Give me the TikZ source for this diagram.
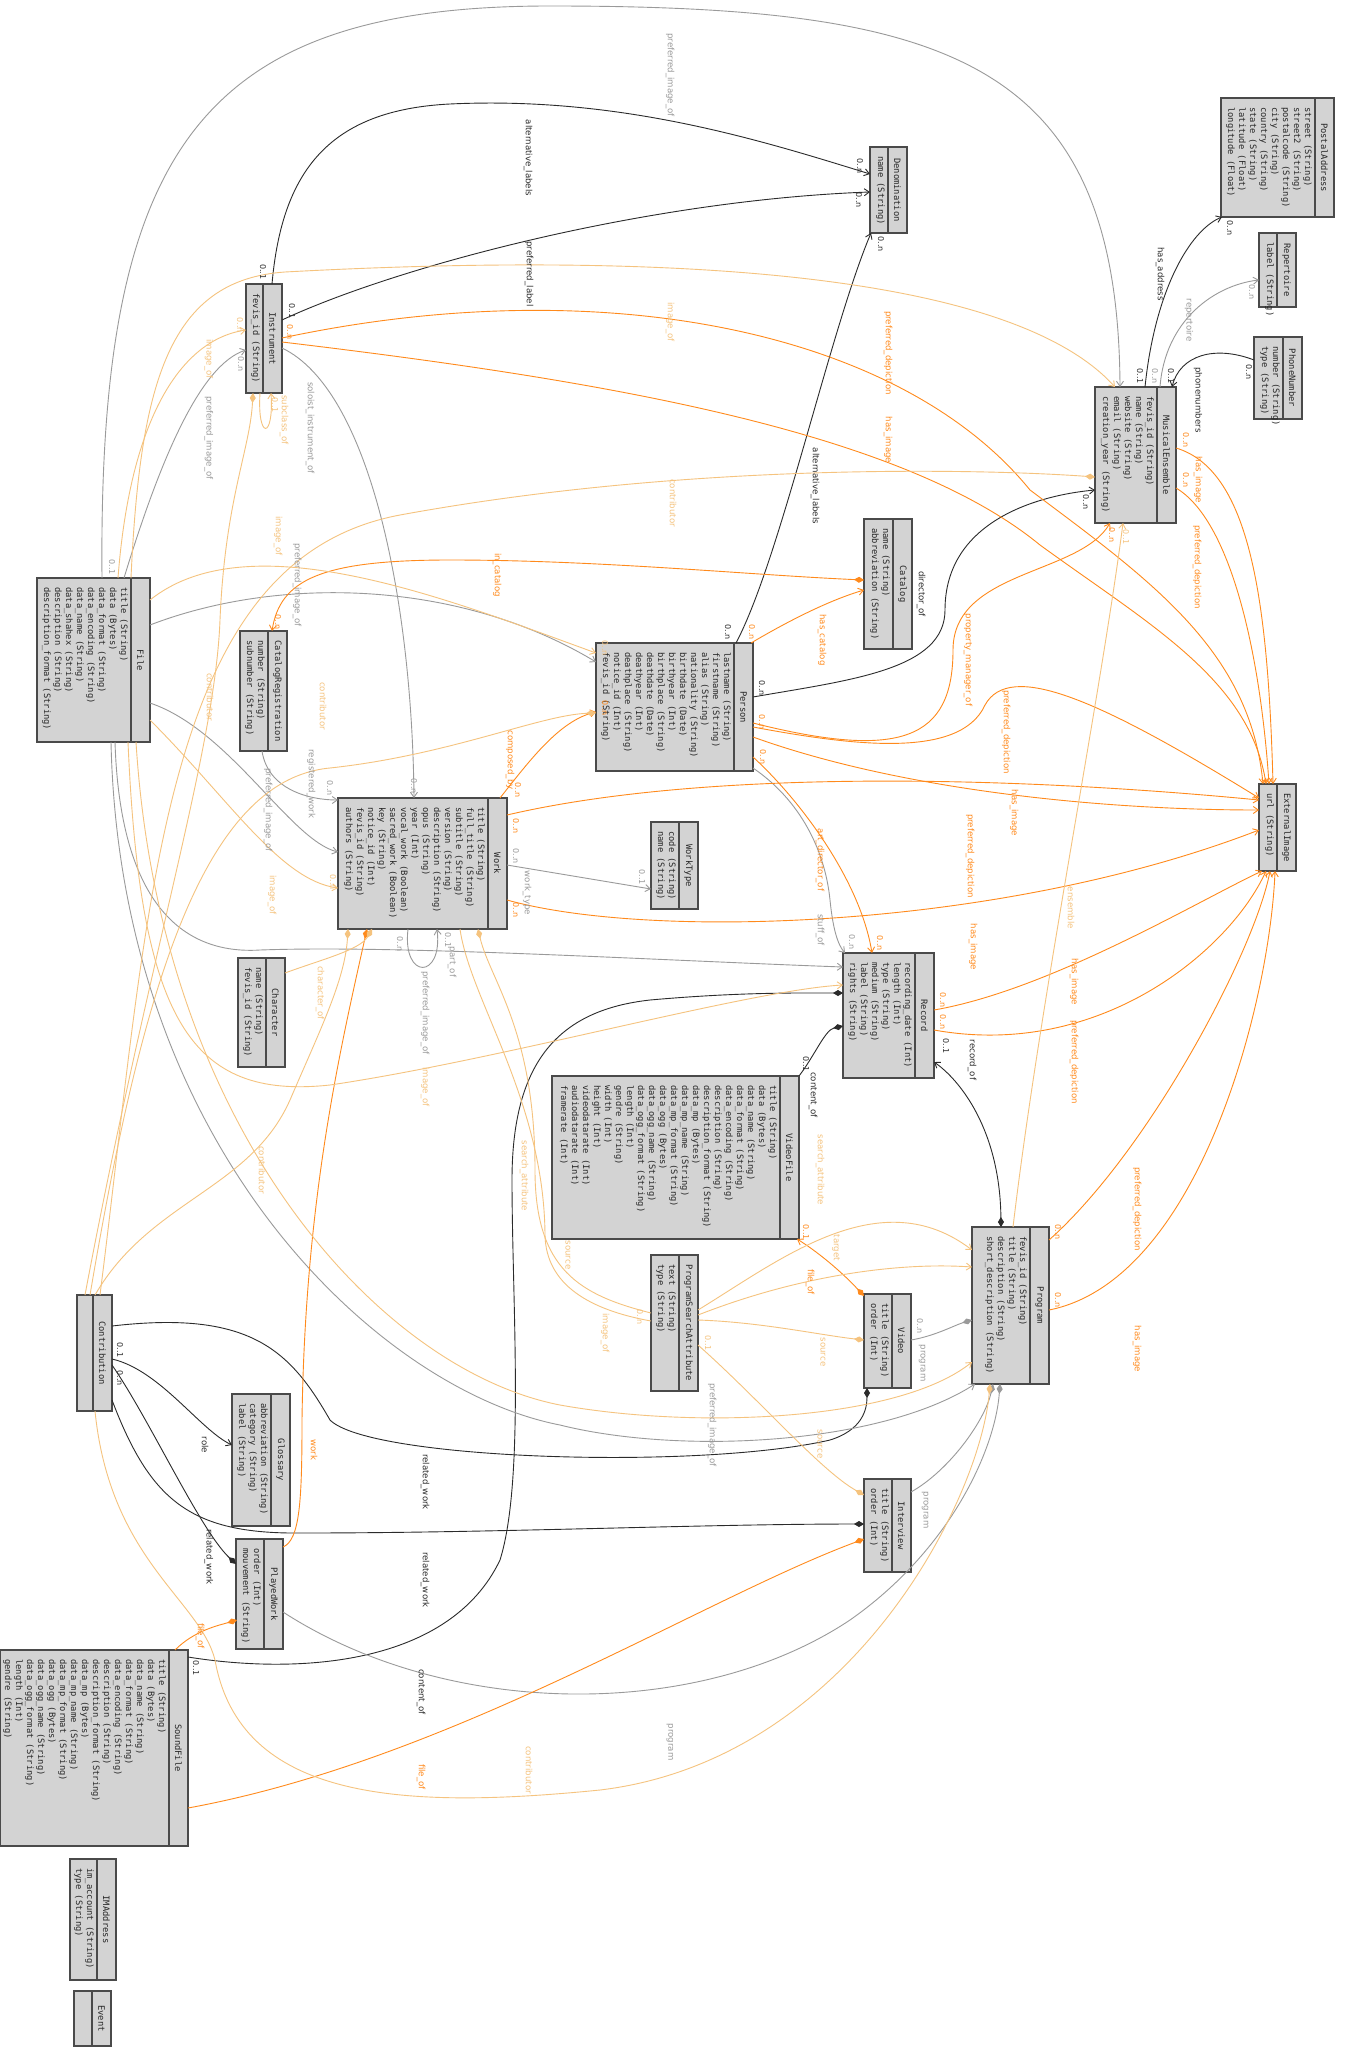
\documentclass[tikz,border=0pt]{standalone}
\usepackage{fontspec}
\newfontfamily\monof{DejaVu Sans Mono}
\newfontfamily\labf{DejaVu Sans}
\usetikzlibrary{arrows.meta,calc}
\definecolor{blk}{HTML}{2B2B2B}
\definecolor{gry}{HTML}{9A9A9A}
\definecolor{org}{HTML}{FF8A1C}
\definecolor{lor}{HTML}{F5C37E}
\definecolor{boxfill}{HTML}{D3D3D3}
\definecolor{boxline}{HTML}{4A4A4A}
\newcounter{lblc}
\tikzset{
  clsbox/.style={draw=boxline, fill=boxfill, line width=1.1pt, inner sep=0pt, outer sep=0pt},
  clshead/.style={rotate=-90, font={\monof\fontsize{8.8}{11}\selectfont}, inner sep=0pt, text=black!85},
  clsattr/.style={rotate=-90, anchor=north west, align=left, font={\monof\fontsize{8.8}{11}\selectfont}, inner sep=0pt, text=black!85},
  elabel/.style={rotate=-90, font={\labf\fontsize{8.6}{10}\selectfont}, inner sep=0pt},
  mlabel/.style={rotate=-90, font={\labf\fontsize{8}{9}\selectfont}, inner sep=0pt},
  conn/.style={line width=0.9pt},
  toarr/.style={-{Straight Barb[length=5pt,width=7pt]}},
  todia/.style={-{Diamond[length=10pt,width=6pt]}},
  diaarr/.style={{Diamond[length=10pt,width=6pt]}-{Straight Barb[length=5pt,width=7pt]}}
}
\newcommand\umlcls[7]{%
  \node[clsbox, minimum width=#4, minimum height=#5, anchor=north west] (#1) at (#2,#3) {};
  \draw[boxline, line width=1.3pt] ($(#1.north east)+(-19,0)$) -- ($(#1.south east)+(-19,0)$);
  \node[clshead] (#1-h) at ($(#1.east)+(-9.5,0)$) {#6};
  \node[clsattr] (#1-a) at ($(#1.north east)+(-22,9)$) {#7};
}
\newcommand\elab[4]{\stepcounter{lblc}\node[elabel,text=#3] (lb\arabic{lblc}) at (#1,#2) {#4};}
\newcommand\mlab[4]{\stepcounter{lblc}\node[mlabel,text=#3] (lb\arabic{lblc}) at (#1,#2) {#4};}
\begin{document}
\begin{tikzpicture}[x=1pt,y=-1pt]
\fill[white] (0,0) rectangle (1351,2049);
\useasboundingbox (0,0) rectangle (1351,2049);

% ---------------- classes ----------------
\umlcls{postal}{1221}{98}{113}{119}{PostalAddress}{street (String)\\street2 (String)\\postalcode (String)\\city (String)\\country (String)\\state (String)\\latitude (Float)\\longitude (Float)}
\umlcls{repertoire}{1259}{233}{37}{74}{Repertoire}{label (String)}
\umlcls{phone}{1254}{337}{48}{82}{PhoneNumber}{number (String)\\type (String)}
\umlcls{ensemble}{1095}{387}{81}{136}{MusicalEnsemble}{fevis\_id (String)\\name (String)\\website (String)\\email (String)\\creation\_year (String)}
\umlcls{extimg}{1259}{784}{37}{87}{ExternalImage}{url (String)}
\umlcls{person}{596}{643}{157}{128}{Person}{lastname (String)\\firstname (String)\\alias (String)\\nationality (String)\\birthdate (Date)\\birthyear (Int)\\birthplace (String)\\deathdate (Date)\\deathyear (Int)\\deathplace (String)\\notice\_id (Int)\\fevis\_id (String)}
\umlcls{worktype}{651}{822}{47}{87}{WorkType}{code (String)\\name (String)}
\umlcls{catalog}{864}{519}{48}{130}{Catalog}{name (String)\\abbreviation (String)}
\umlcls{record}{843}{953}{91}{125}{Record}{recording\_date (Int)\\length (Int)\\type (String)\\medium (String)\\label (String)\\rights (String)}
\umlcls{work}{338}{798}{169}{131}{Work}{title (String)\\full\_title (String)\\subtitle (String)\\version (String)\\description (String)\\opus (String)\\year (Int)\\vocal\_work (Boolean)\\sacred\_work (Boolean)\\key (String)\\notice\_id (Int)\\fevis\_id (String)\\authors (String)}
\umlcls{file}{37}{578}{113}{164}{File}{title (String)\\data (Bytes)\\data\_format (String)\\data\_encoding (String)\\data\_name (String)\\data\_shahex (String)\\description (String)\\description\_format (String)}
\umlcls{catreg}{240}{631}{47}{120}{CatalogRegistration}{number (String)\\subnumber (String)}
\umlcls{instrument}{246}{284}{36}{109}{Instrument}{fevis\_id (String)}
\umlcls{denom}{870}{147}{37}{86}{Denomination}{name (String)}
\umlcls{videofile}{552}{1076}{247}{163}{VideoFile}{title (String)\\data (Bytes)\\data\_name (String)\\data\_format (String)\\data\_encoding (String)\\description (String)\\description\_format (String)\\data\_mp (Bytes)\\data\_mp\_name (String)\\data\_mp\_format (String)\\data\_ogg (Bytes)\\data\_ogg\_name (String)\\data\_ogg\_format (String)\\length (Int)\\gendre (String)\\width (Int)\\height (Int)\\videodatarate (Int)\\audiodatarate (Int)\\framerate (Int)}
\umlcls{psa}{651}{1255}{47}{136}{ProgramSearchAttribute}{text (String)\\type (String)}
\umlcls{character}{238}{958}{47}{109}{Character}{name (String)\\fevis\_id (String)}
\umlcls{program}{972}{1227}{77}{157}{Program}{fevis\_id (String)\\title (String)\\description (String)\\short\_description (String)}
\umlcls{video}{864}{1294}{47}{94}{Video}{title (String)\\order (Int)}
\umlcls{interview}{864}{1479}{47}{93}{Interview}{title (String)\\order (Int)}
\umlcls{glossary}{232}{1394}{58}{132}{Glossary}{abbreviation (String)\\category (String)\\label (String)}
\umlcls{playedwork}{236}{1539}{47}{110}{PlayedWork}{order (Int)\\mouvement (String)}
\umlcls{contribution}{77}{1295}{35}{116}{Contribution}{}
\umlcls{soundfile}{0}{1650}{188}{196}{SoundFile}{title (String)\\data (Bytes)\\data\_name (String)\\data\_format (String)\\data\_encoding (String)\\description (String)\\description\_format (String)\\data\_mp (Bytes)\\data\_mp\_name (String)\\data\_mp\_format (String)\\data\_ogg (Bytes)\\data\_ogg\_name (String)\\data\_ogg\_format (String)\\length (Int)\\gendre (String)}
\umlcls{imaddress}{70}{1859}{46}{121}{IMAddress}{im\_account (String)\\type (String)}
\umlcls{event}{74}{1991}{37}{55}{Event}{}

% ---------------- black connectors ----------------
\draw[conn,blk,toarr] ($(instrument.north west)+(26,0)$) .. controls (282,170) and (330,110) .. (450,104) .. controls (620,96) and (760,140) .. ($(denom.north west)+(0,27)$);
\draw[conn,blk,toarr] ($(instrument.north west)+(36,36)$) .. controls (400,265) and (650,200) .. ($(denom.north west)+(0,45)$);
\draw[conn,blk,toarr] ($(person.north west)+(140,0)$) .. controls (780,560) and (830,330) .. ($(denom.north west)+(1,86)$);
\draw[conn,blk,toarr] ($(person.north west)+(157,54)$) .. controls (850,680) and (945,670) .. (945,610) .. controls (945,520) and (1040,495) .. ($(ensemble.north west)+(0,103)$);
\draw[conn,blk,toarr] ($(ensemble.north west)+(50,0)$) .. controls (1155,290) and (1190,230) .. ($(postal.north west)+(1,119)$);
\draw[conn,blk,toarr] ($(phone.north west)+(0,23)$) .. controls (1215,345) and (1180,355) .. ($(ensemble.north west)+(77,0)$);
\draw[conn,blk,diaarr] ($(program.north west)+(29,0)$) .. controls (1000,1130) and (960,1080) .. ($(record.north west)+(91,109)$);
\draw[conn,blk,todia] ($(videofile.north west)+(247,0)$) .. controls (815,1055) and (825,1030) .. ($(record.north west)+(0,73)$);
\draw[conn,blk,todia] ($(soundfile.north west)+(188,7)$) .. controls (300,1675) and (450,1665) .. (500,1560) .. controls (525,1480) and (512,1300) .. (512,1180) .. controls (512,1060) and (560,1010) .. (650,1000) .. controls (740,992) and (800,993) .. ($(record.north west)+(0,40)$);
\draw[conn,blk,toarr] ($(contribution.north west)+(35,64)$) .. controls (160,1370) and (200,1430) .. ($(glossary.north west)+(0,51)$);
\draw[conn,blk,todia] ($(contribution.north west)+(35,70)$) .. controls (150,1420) and (200,1530) .. ($(playedwork.north west)+(0,25)$);
\draw[conn,blk,todia] ($(contribution.north west)+(35,31)$) .. controls (250,1310) and (290,1350) .. (330,1420) .. controls (370,1460) and (700,1470) .. (830,1440) .. controls (862,1430) and (867,1410) .. ($(video.north west)+(3,94)$);
\draw[conn,blk,todia] ($(contribution.north west)+(35,105)$) .. controls (150,1500) and (190,1534) .. (300,1533) .. controls (500,1533) and (700,1524) .. ($(interview.north west)+(0,45)$);

% ---------------- gray connectors ----------------
\draw[conn,gry,toarr] ($(ensemble.north west)+(65,0)$) .. controls (1165,320) and (1215,285) .. ($(repertoire.north west)+(0,47)$);
\draw[conn,gry,toarr] ($(file.north west)+(65,0)$) .. controls (98,150) and (200,6) .. (550,6) .. controls (950,6) and (1118,60) .. ($(ensemble.north west)+(25,0)$);
\draw[conn,gry,toarr] ($(file.north west)+(87,0)$) .. controls (160,460) and (200,365) .. ($(instrument.north west)+(0,66)$);
\draw[conn,gry,toarr] ($(instrument.north west)+(36,64)$) .. controls (370,390) and (412,600) .. ($(work.north west)+(76,0)$);
\draw[conn,gry,toarr] ($(file.north west)+(113,47)$) .. controls (280,575) and (460,580) .. ($(person.north west)+(0,19)$);
\draw[conn,gry,toarr] ($(catreg.north west)+(22,120)$) .. controls (268,790) and (310,800) .. ($(work.north west)+(0,2)$);
\draw[conn,gry,toarr] ($(file.north west)+(113,125)$) .. controls (230,730) and (290,840) .. ($(work.north west)+(0,54)$);
\draw[conn,gry,toarr] ($(file.north west)+(78,164)$) .. controls (120,900) and (180,955) .. (260,950) .. controls (400,945) and (650,960) .. ($(record.north west)+(0,14)$);
\draw[conn,gry,toarr] ($(file.north west)+(74,164)$) .. controls (120,1150) and (380,1390) .. (560,1425) .. controls (680,1455) and (880,1445) .. ($(program.north west)+(3,157)$);
\draw[conn,gry,toarr] ($(work.north west)+(169,67)$) -- ($(worktype.north west)+(0,67)$);
\draw[conn,gry,toarr] ($(work.north west)+(70,131)$) .. controls (402,980) and (443,980) .. ($(work.north west)+(99,131)$);
\draw[conn,gry,toarr] ($(person.north west)+(157,125)$) .. controls (800,800) and (825,850) .. (830,900) .. controls (833,930) and (838,945) .. ($(record.north west)+(2,0)$);
\draw[conn,gry,todia] ($(video.north west)+(47,46)$) .. controls (935,1336) and (955,1325) .. ($(program.north west)+(0,93)$);
\draw[conn,gry,todia] ($(interview.north west)+(47,13)$) .. controls (950,1470) and (985,1420) .. ($(program.north west)+(21,157)$);
\draw[conn,gry,todia] ($(playedwork.north west)+(47,73)$) .. controls (450,1720) and (700,1720) .. (850,1620) .. controls (950,1550) and (995,1450) .. ($(program.north west)+(28,157)$);

% ---------------- orange connectors ----------------
\draw[conn,org,toarr] ($(instrument.north west)+(36,54)$) .. controls (600,270) and (900,330) .. (1030,490) .. controls (1150,580) and (1250,650) .. ($(extimg.north west)+(4,0)$);
\draw[conn,org,toarr] ($(instrument.north west)+(36,58)$) .. controls (600,380) and (900,430) .. (1040,545) .. controls (1150,625) and (1250,680) .. ($(extimg.north west)+(7,0)$);
\draw[conn,org,toarr] ($(ensemble.north west)+(81,61)$) .. controls (1250,470) and (1268,600) .. ($(extimg.north west)+(14,0)$);
\draw[conn,org,toarr] ($(ensemble.north west)+(81,101)$) .. controls (1230,520) and (1260,650) .. ($(extimg.north west)+(10,0)$);
\draw[conn,org,toarr] ($(person.north west)+(157,94)$) .. controls (900,790) and (1100,810) .. ($(extimg.north west)+(0,26)$);
\draw[conn,org,toarr] ($(person.north west)+(157,84)$) .. controls (850,745) and (960,760) .. (985,705) .. controls (1010,660) and (1100,700) .. ($(extimg.north west)+(0,14)$);
\draw[conn,org,toarr] ($(person.north west)+(157,80)$) .. controls (900,760) and (953,740) .. (953,650) .. controls (953,570) and (1080,575) .. ($(ensemble.north west)+(15,136)$);
\draw[conn,org,toarr] ($(person.north west)+(157,114)$) .. controls (800,800) and (860,880) .. ($(record.north west)+(29,0)$);
\draw[conn,org,toarr] ($(person.north west)+(155,0)$) .. controls (790,620) and (830,600) .. ($(catalog.north west)+(0,71)$);
\draw[conn,org,diaarr] ($(catalog.north west)+(0,61)$) .. controls (750,575) and (600,560) .. (450,560) .. controls (320,560) and (280,580) .. ($(catreg.north west)+(32,0)$);
\draw[conn,org,toarr] ($(work.north west)+(162,0)$) .. controls (530,760) and (560,720) .. ($(person.north west)+(0,69)$);
\draw[conn,org,toarr] ($(work.north west)+(169,17)$) .. controls (700,770) and (1000,775) .. ($(extimg.north west)+(0,16)$);
\draw[conn,org,toarr] ($(work.north west)+(169,102)$) .. controls (650,940) and (1000,930) .. ($(extimg.north west)+(0,46)$);
\draw[conn,org,toarr] ($(record.north west)+(91,57)$) .. controls (1050,990) and (1200,900) .. ($(extimg.north west)+(3,87)$);
\draw[conn,org,toarr] ($(record.north west)+(91,77)$) .. controls (1100,1060) and (1230,950) .. ($(extimg.north west)+(7,87)$);
\draw[conn,org,toarr] ($(program.north west)+(77,83)$) .. controls (1200,1280) and (1270,1000) .. ($(extimg.north west)+(16,87)$);
\draw[conn,org,toarr] ($(program.north west)+(77,13)$) .. controls (1150,1150) and (1255,950) .. ($(extimg.north west)+(11,87)$);
\draw[conn,org,diaarr] ($(video.north west)+(0,2)$) .. controls (840,1270) and (815,1250) .. ($(videofile.north west)+(245,163)$);
\draw[conn,org,todia] ($(playedwork.north west)+(47,8)$) .. controls (300,1540) and (302,1500) .. (302,1420) .. controls (305,1200) and (340,1050) .. ($(work.north west)+(29,131)$);
\draw[conn,org,todia] ($(soundfile.north west)+(175,0)$) .. controls (195,1630) and (220,1625) .. ($(playedwork.north west)+(1,81)$);
\draw[conn,org,todia] ($(soundfile.north west)+(188,158)$) .. controls (450,1760) and (700,1600) .. ($(interview.north west)+(0,60)$);

% ---------------- light orange connectors ----------------
\draw[conn,lor,toarr] ($(file.north west)+(81,0)$) .. controls (130,420) and (180,340) .. ($(instrument.north west)+(0,46)$);
\draw[conn,lor,toarr] ($(file.north west)+(94,0)$) .. controls (140,380) and (170,280) .. (285,272) .. controls (600,255) and (1000,260) .. ($(ensemble.north west)+(20,0)$);
\draw[conn,lor,toarr] ($(file.north west)+(113,22)$) .. controls (250,520) and (450,600) .. ($(person.north west)+(0,10)$);
\draw[conn,lor,toarr] ($(file.north west)+(113,142)$) .. controls (230,800) and (280,880) .. ($(work.north west)+(0,90)$);
\draw[conn,lor,toarr] ($(file.north west)+(91,164)$) .. controls (140,1020) and (190,1100) .. (330,1085) .. controls (500,1060) and (750,990) .. ($(record.north west)+(0,32)$);
\draw[conn,lor,toarr] ($(file.north west)+(99,164)$) .. controls (160,1130) and (380,1370) .. (560,1405) .. controls (700,1430) and (900,1420) .. ($(program.north west)+(0,135)$);
\draw[conn,lor,todia] ($(contribution.north west)+(8,0)$) .. controls (150,950) and (215,750) .. (220,620) .. controls (225,500) and (250,450) .. ($(instrument.north west)+(7,109)$);
\draw[conn,lor,toarr] ($(instrument.north west)+(14,109)$) .. controls (257,440) and (274,440) .. ($(instrument.north west)+(25,109)$);
\draw[conn,lor,todia] ($(contribution.north west)+(13,0)$) .. controls (140,1000) and (200,780) .. (330,768) .. controls (450,755) and (540,715) .. ($(person.north west)+(0,70)$);
\draw[conn,lor,todia] ($(contribution.north west)+(18,0)$) .. controls (150,1200) and (250,1190) .. (290,1100) .. controls (320,1030) and (345,980) .. ($(work.north west)+(10,131)$);
\draw[conn,lor,todia] ($(contribution.north west)+(23,0)$) .. controls (150,900) and (160,560) .. (400,515) .. controls (700,460) and (1000,470) .. ($(ensemble.north west)+(0,90)$);
\draw[conn,lor,todia] ($(contribution.north west)+(18,116)$) .. controls (110,1560) and (200,1600) .. (215,1660) .. controls (240,1800) and (400,1810) .. (600,1790) .. controls (850,1760) and (980,1500) .. ($(program.north west)+(18,157)$);
\draw[conn,lor,todia] ($(character.north west)+(47,15)$) .. controls (320,960) and (360,950) .. ($(work.north west)+(34,131)$);
\draw[conn,lor,toarr] ($(program.north west)+(41,0)$) .. controls (1040,1000) and (1100,700) .. ($(ensemble.north west)+(28,136)$);
\draw[conn,lor,todia] ($(psa.north west)+(0,58)$) .. controls (580,1295) and (535,1270) .. (535,1170) .. controls (535,1030) and (490,980) .. ($(work.north west)+(140,131)$);
\draw[conn,lor] ($(psa.north west)+(0,66)$) .. controls (590,1310) and (546,1285) .. (545,1235) .. controls (544,1100) and (470,1000) .. ($(work.north west)+(122,131)$);
\draw[conn,lor,toarr] ($(psa.north west)+(47,55)$) .. controls (780,1260) and (880,1180) .. ($(program.north west)+(0,23)$);
\draw[conn,lor,toarr] ($(psa.north west)+(47,60)$) .. controls (800,1275) and (900,1262) .. ($(program.north west)+(0,40)$);
\draw[conn,lor,todia] ($(psa.north west)+(47,65)$) .. controls (760,1322) and (820,1335) .. ($(video.north west)+(0,46)$);
\draw[conn,lor,todia] ($(psa.north west)+(47,90)$) .. controls (760,1400) and (820,1470) .. ($(interview.north west)+(0,16)$);

% ---------------- connector labels ----------------
\elab{528}{158}{blk}{alternative\_labels}
\elab{529}{274}{blk}{preferred\_label}
\elab{815}{486}{blk}{alternative\_labels}
\elab{921}{594}{blk}{director\_of}
\elab{1160}{274}{blk}{has\_address}
\elab{1198}{400}{blk}{phonenumbers}
\elab{972}{1060}{blk}{record\_of}
\elab{813}{1095}{blk}{content\_of}
\elab{205}{1445}{blk}{role}
\elab{209}{1557}{blk}{related\_work}
\elab{425}{1482}{blk}{related\_work}
\elab{425}{1580}{blk}{related\_work}
\elab{421}{1692}{blk}{content\_of}

\elab{1189}{320}{gry}{repertoire}
\elab{670}{75}{gry}{preferred\_image\_of}
\elab{209}{438}{gry}{preferred\_image\_of}
\elab{310}{428}{gry}{soloist\_instrument\_of}
\elab{297}{585}{gry}{preferred\_image\_of}
\elab{311}{784}{gry}{registered\_work}
\elab{268}{810}{gry}{preferred\_image\_of}
\elab{425}{1013}{gry}{preferred\_image\_of}
\elab{712}{1425}{gry}{preferred\_image\_of}
\elab{527}{893}{gry}{work\_type}
\elab{452}{962}{gry}{part\_of}
\elab{820}{930}{gry}{stuff\_of}
\elab{922}{1363}{gry}{program}
\elab{925}{1510}{gry}{program}
\elab{670}{1742}{gry}{program}

\elab{888}{353}{org}{preferred\_depiction}
\elab{888}{440}{org}{has\_image}
\elab{1198}{480}{org}{has\_image}
\elab{1197}{567}{org}{preferred\_depiction}
\elab{1014}{813}{org}{has\_image}
\elab{1006}{732}{org}{preferred\_depiction}
\elab{968}{660}{org}{property\_manager\_of}
\elab{820}{860}{org}{art\_director\_of}
\elab{822}{640}{org}{has\_catalog}
\elab{497}{575}{org}{in\_catalog}
\elab{510}{760}{org}{composed\_by}
\elab{970}{856}{org}{preferred\_depiction}
\elab{973}{947}{org}{has\_image}
\elab{1074}{982}{org}{has\_image}
\elab{1074}{1062}{org}{preferred\_depiction}
\elab{1137}{1349}{org}{has\_image}
\elab{1137}{1209}{org}{preferred\_depiction}
\elab{810}{1282}{org}{file\_of}
\elab{314}{1450}{org}{work}
\elab{200}{1636}{org}{file\_of}
\elab{421}{1777}{org}{file\_of}

\elab{209}{359}{lor}{image\_of}
\elab{670}{322}{lor}{image\_of}
\elab{278}{536}{lor}{image\_of}
\elab{272}{895}{lor}{image\_of}
\elab{425}{1087}{lor}{image\_of}
\elab{605}{1333}{lor}{image\_of}
\elab{210}{697}{lor}{contributor}
\elab{284}{420}{lor}{subclass\_of}
\elab{323}{706}{lor}{contributor}
\elab{262}{1170}{lor}{contributor}
\elab{673}{503}{lor}{contributor}
\elab{529}{1770}{lor}{contributor}
\elab{320}{993}{lor}{character\_of}
\elab{1071}{908}{lor}{ensemble}
\elab{524}{1176}{lor}{search\_attribute}
\elab{568}{1255}{lor}{source}
\elab{820}{1170}{lor}{search\_attribute}
\elab{836}{1248}{lor}{target}
\elab{823}{1352}{lor}{source}
\elab{820}{1444}{lor}{source}

% ---------------- multiplicities ----------------
\mlab{263}{272}{blk}{0..1}
\mlab{860}{166}{blk}{0..n}
\mlab{292}{311}{blk}{0..1}
\mlab{859}{200}{blk}{0..n}
\mlab{728}{632}{blk}{0..n}
\mlab{881}{244}{blk}{0..n}
\mlab{762}{688}{blk}{0..n}
\mlab{1086}{502}{blk}{0..n}
\mlab{1140}{376}{blk}{0..1}
\mlab{1230}{228}{blk}{0..n}
\mlab{1171}{376}{blk}{0..1}
\mlab{1249}{372}{blk}{0..n}
\mlab{946}{1046}{blk}{0..1}
\mlab{806}{1064}{blk}{0..1}
\mlab{196}{1668}{blk}{0..1}
\mlab{120}{1350}{blk}{0..1}
\mlab{120}{1378}{blk}{0..n}
\mlab{1155}{376}{gry}{0..n}
\mlab{1252}{292}{gry}{0..n}
\mlab{112}{567}{gry}{0..1}
\mlab{241}{364}{gry}{0..n}
\mlab{414}{786}{gry}{0..n}
\mlab{516}{856}{gry}{0..n}
\mlab{642}{877}{gry}{0..1}
\mlab{400}{944}{gry}{0..n}
\mlab{448}{940}{gry}{0..1}
\mlab{852}{942}{gry}{0..n}
\mlab{920}{1326}{gry}{0..n}
\mlab{330}{788}{gry}{0..n}
\mlab{290}{332}{org}{0..n}
\mlab{1186}{440}{org}{0..n}
\mlab{1186}{480}{org}{0..n}
\mlab{762}{722}{org}{0..n}
\mlab{763}{757}{org}{0..n}
\mlab{752}{632}{org}{0..n}
\mlab{1112}{535}{org}{0..n}
\mlab{880}{943}{org}{0..n}
\mlab{605}{708}{org}{0..n}
\mlab{518}{790}{org}{0..n}
\mlab{516}{826}{org}{0..n}
\mlab{516}{910}{org}{0..n}
\mlab{943}{1000}{org}{0..n}
\mlab{943}{1022}{org}{0..n}
\mlab{1058}{1300}{org}{0..n}
\mlab{1058}{1232}{org}{0..n}
\mlab{806}{1232}{org}{0..1}
\mlab{278}{622}{org}{0..n}
\mlab{240}{325}{lor}{0..n}
\mlab{1126}{537}{lor}{0..1}
\mlab{605}{648}{lor}{0..n}
\mlab{333}{882}{lor}{0..n}
\mlab{640}{1317}{lor}{0..n}
\mlab{708}{1343}{lor}{0..1}
\mlab{275}{405}{lor}{0..1}
\end{tikzpicture}
\end{document}
